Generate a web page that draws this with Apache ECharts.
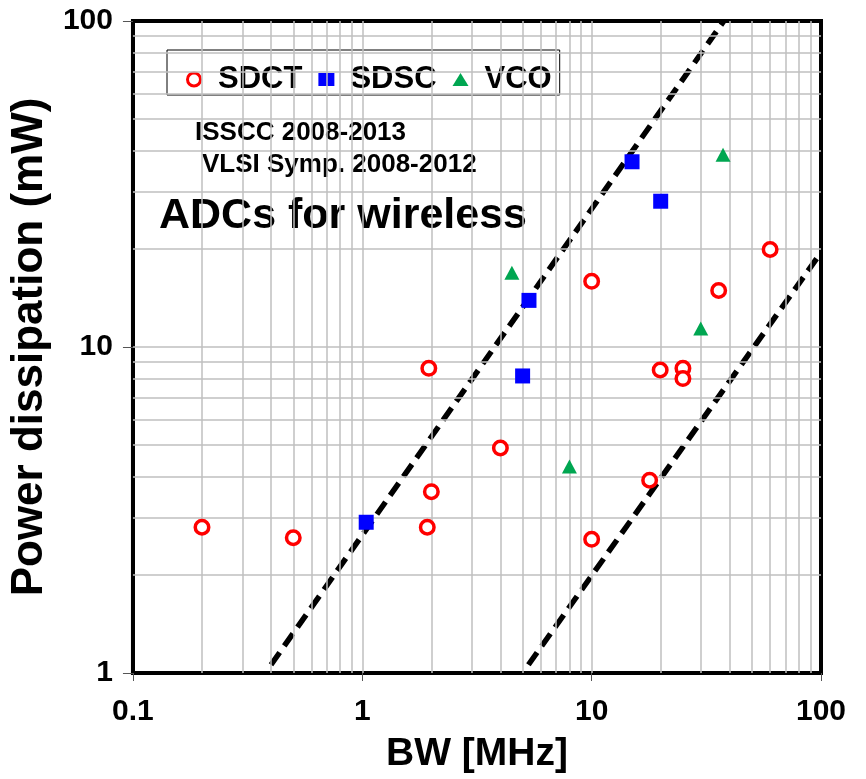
<!DOCTYPE html>
<html>
<head>
<meta charset="utf-8">
<title>ADCs for wireless</title>
<script src="https://cdn.jsdelivr.net/npm/echarts@6/dist/echarts.min.js"></script>
<style>
  html, body { margin: 0; padding: 0; background: #fff; }
  #chart { width: 866px; height: 779px; }
</style>
</head>
<body>
<div id="chart"></div>
<script>
// BW [MHz], power [mW]
const sdct = [[0.2, 2.8], [0.5, 2.6], [1.95, 8.6], [2.0, 3.6], [1.92, 2.8], [4.0, 4.9], [10, 15.9],
  [10, 2.57], [19.9, 8.5], [25, 8.6], [25, 8.0], [17.9, 3.9], [35.8, 14.9], [60, 19.9]];
const sdsc = [[1.04, 2.9], [5.0, 8.15], [5.33, 13.9], [15, 37], [20, 28]];
const vco = [[4.49, 16.9], [8.0, 4.3], [29.9, 11.4], [37.4, 38.9]];
// dashed guide lines
const guideA = [[0.4, 1.06], [37.7, 100]];
const guideB = [[5.3, 1.06], [100, 19.5]];

const xGrid = [0.2, 0.3, 0.4, 0.5, 0.6, 0.7, 0.8, 0.9, 1, 2, 3, 4, 5, 6, 7, 8, 9, 10, 20, 30, 40, 50, 60, 70, 80, 90];
const yGrid = [2, 3, 4, 5, 6, 7, 8, 9, 10, 20, 30, 40, 50, 60, 70, 80, 90];
const xTicks = ['0.1', '1', '10', '100'];
const yTicks = ['1', '10', '100'];

const font = "'Liberation Sans', Arial, sans-serif";
const gridLines = xGrid.map(v => ({ xAxis: v })).concat(yGrid.map(v => ({ yAxis: v })));

const chart = echarts.init(document.getElementById('chart'));
const option = {
  animation: false,
  grid: {
    left: 128, right: 45, top: 21, bottom: 104,
    show: true, borderColor: '#000', borderWidth: 4
  },
  legend: {
    left: 167, top: 50,
    padding: [14, 8, 0, 19],
    backgroundColor: '#fff',
    borderColor: '#000',
    borderWidth: 1,
    itemWidth: 16, itemHeight: 13, itemGap: 16,
    textStyle: {
      fontFamily: font, fontWeight: 'bold', fontSize: 31, color: '#000',
      lineHeight: 30, padding: [0, 0, 0, 11]
    },
    data: [
      { name: 'SDCT', icon: 'circle', itemStyle: { color: '#fff', borderColor: '#ff0000', borderWidth: 3 } },
      { name: 'SDSC', icon: 'rect', itemStyle: { color: '#0000ff', borderWidth: 0 } },
      { name: 'VCO', icon: 'triangle', itemStyle: { color: '#00a651', borderWidth: 0 } }
    ]
  },
  xAxis: {
    type: 'log', logBase: 10, min: 0.1, max: 100,
    name: 'BW [MHz]', nameLocation: 'middle', nameGap: 62,
    nameTextStyle: { fontFamily: font, fontWeight: 'bold', fontSize: 39, color: '#000' },
    axisLine: { lineStyle: { color: '#000', width: 4 } },
    axisTick: { length: 8, lineStyle: { color: '#555', width: 1 } },
    axisLabel: {
      margin: 24, fontFamily: font, fontWeight: 'bold', fontSize: 30, color: '#000',
      formatter: (v, i) => xTicks[i]
    },
    splitLine: { show: false }
  },
  yAxis: {
    type: 'log', logBase: 10, min: 1, max: 100,
    name: 'Power dissipation (mW)', nameLocation: 'middle', nameRotate: 90, nameGap: 64,
    nameTextStyle: { fontFamily: font, fontWeight: 'bold', fontSize: 44, color: '#000' },
    axisLine: { lineStyle: { color: '#000', width: 4 } },
    axisTick: { length: 10, lineStyle: { color: '#555', width: 1 } },
    axisLabel: {
      margin: 20, fontFamily: font, fontWeight: 'bold', fontSize: 30, color: '#000',
      formatter: (v, i) => yTicks[i]
    },
    splitLine: { show: false }
  },
  graphic: [
    { type: 'rect', z: 3, shape: { x: 170, y: 100, width: 322, height: 78 }, style: { fill: '#fff' }, silent: true },
    { type: 'rect', z: 3, shape: { x: 140, y: 177, width: 419, height: 71 }, style: { fill: '#fff' }, silent: true },
    { type: 'text', z: 3, left: 195, top: 120,
      style: { text: 'ISSCC 2008-2013', fill: '#000', font: "bold 26px " + font } },
    { type: 'text', z: 3, left: 202, top: 152,
      style: { text: 'VLSI Symp. 2008-2012', fill: '#000', font: "bold 26px " + font } },
    { type: 'text', z: 3, left: 159, top: 195,
      style: { text: 'ADCs for wireless', fill: '#000', font: "bold 43px " + font } }
  ],
  series: [
    {
      name: 'grid', type: 'line', data: [], z: 1, silent: true,
      markLine: {
        silent: true, symbol: ['none', 'none'], label: { show: false },
        lineStyle: { color: '#bfbfbf', width: 1.5, type: 'solid' },
        emphasis: { disabled: true },
        data: gridLines
      }
    },
    {
      name: 'guideA', type: 'line', data: guideA, symbol: 'none', z: 4, silent: true,
      lineStyle: { color: '#000', width: 5.5, type: [15, 8] }
    },
    {
      name: 'guideB', type: 'line', data: guideB, symbol: 'none', z: 4, silent: true,
      lineStyle: { color: '#000', width: 5.5, type: [15, 8] }
    },
    {
      name: 'SDCT', type: 'scatter', data: sdct, symbol: 'circle', symbolSize: 13.5, z: 5,
      itemStyle: { color: '#fff', borderColor: '#ff0000', borderWidth: 3.5, opacity: 1 }
    },
    {
      name: 'SDSC', type: 'scatter', data: sdsc, symbol: 'rect', symbolSize: 15, z: 5,
      itemStyle: { color: '#0000ff', opacity: 1 }
    },
    {
      name: 'VCO', type: 'scatter', data: vco, symbol: 'triangle', symbolSize: [15, 14], z: 5,
      itemStyle: { color: '#00a651', opacity: 1 }
    }
  ]
};
chart.setOption(option);
window.addEventListener('resize', () => chart.resize());
</script>
</body>
</html>
